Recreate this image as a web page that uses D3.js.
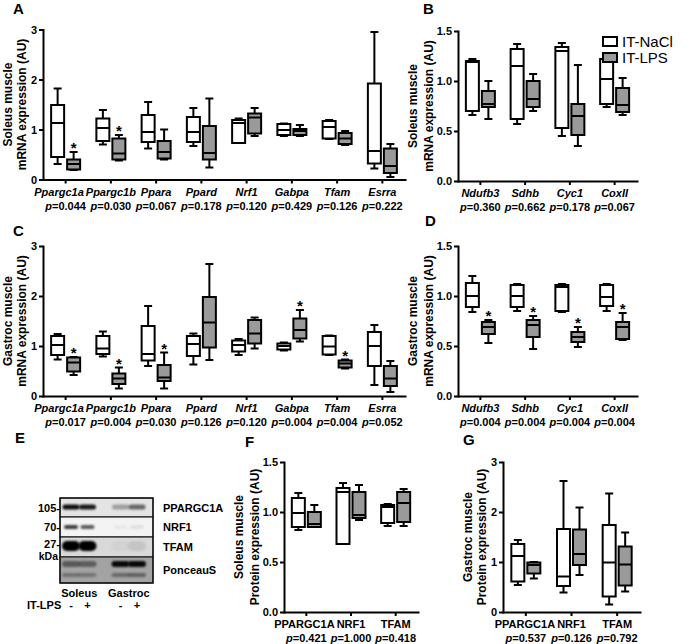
<!DOCTYPE html>
<html><head><meta charset="utf-8">
<script src="https://cdn.jsdelivr.net/npm/d3@7"></script>
<style>
body{margin:0;background:#fff}
svg{display:block}
text{font-family:"Liberation Sans",Arial,sans-serif;}
</style>
</head><body>
<svg id="c" width="685" height="644"></svg>
<script>
// ---------- DATA (box stats: [min, q1, median, q3, max]) ----------
const mitoGenes = ["Ppargc1a","Ppargc1b","Ppara","Ppard","Nrf1","Gabpa","Tfam","Esrra"];
const oxGenes = ["Ndufb3","Sdhb","Cyc1","CoxII"];
const proteins = ["PPARGC1A","NRF1","TFAM"];

const aNaCl = [[0.31,0.45,1.13,1.49,1.82],[0.70,0.77,1.03,1.22,1.39],[0.62,0.75,0.95,1.29,1.55],[0.67,0.75,0.95,1.25,1.43],
               [0.73,0.73,1.13,1.19,1.22],[0.87,0.89,0.99,1.11,1.12],[0.81,0.82,1.05,1.17,1.19],[0.22,0.32,0.57,1.92,2.95]];
const aLPS  = [[0.19,0.20,0.31,0.40,0.55],[0.38,0.40,0.52,0.82,0.89],[0.40,0.42,0.55,0.77,1.00],[0.24,0.40,0.53,1.07,1.62],
               [0.87,0.92,1.24,1.32,1.43],[0.87,0.89,0.97,1.01,1.09],[0.69,0.71,0.82,0.93,0.97],[0.05,0.13,0.27,0.62,0.71]];
const aP = ["0.044","0.030","0.067","0.178","0.120","0.429","0.126","0.222"];
const aStar = [1,1,0,0,0,0,0,0];

const bNaCl = [[0.66,0.70,1.19,1.20,1.22],[0.57,0.62,1.15,1.32,1.37],[0.45,0.53,1.30,1.34,1.38],[0.74,0.77,1.02,1.22,1.23]];
const bLPS  = [[0.62,0.74,0.77,0.90,1.00],[0.70,0.74,0.82,1.00,1.07],[0.35,0.46,0.65,0.77,1.16],[0.66,0.69,0.76,0.93,1.03]];
const bP = ["0.360","0.662","0.178","0.067"];
const bStar = [0,0,0,0];

const cNaCl = [[0.73,0.82,1.02,1.20,1.24],[0.79,0.84,0.95,1.20,1.29],[0.60,0.71,0.84,1.40,1.80],[0.63,0.80,1.04,1.20,1.25],
               [0.82,0.89,1.02,1.11,1.14],[0.91,0.93,1.00,1.05,1.07],[0.82,0.83,0.99,1.20,1.21],[0.22,0.60,1.00,1.28,1.42]];
const cLPS  = [[0.42,0.49,0.67,0.77,0.78],[0.15,0.24,0.35,0.45,0.57],[0.15,0.30,0.37,0.62,0.87],[0.72,0.97,1.47,1.98,2.64],
               [0.95,1.05,1.25,1.52,1.57],[1.09,1.15,1.32,1.55,1.72],[0.55,0.57,0.65,0.71,0.73],[0.08,0.20,0.35,0.60,0.70]];
const cP = ["0.017","0.004","0.030","0.126","0.120","0.004","0.004","0.052"];
const cStar = [1,1,1,0,0,1,1,0];

const dNaCl = [[0.84,0.89,1.00,1.13,1.20],[0.85,0.89,1.00,1.11,1.12],[0.84,0.85,1.09,1.11,1.12],[0.85,0.90,0.99,1.11,1.12]];
const dLPS  = [[0.53,0.62,0.69,0.74,0.76],[0.47,0.59,0.71,0.76,0.80],[0.49,0.54,0.59,0.64,0.69],[0.56,0.57,0.69,0.74,0.83]];
const dP = ["0.004","0.004","0.004","0.004"];
const dStar = [1,1,1,1];

const fNaCl = [[0.82,0.85,0.99,1.14,1.19],[0.68,0.68,1.20,1.24,1.29],[0.86,0.89,1.05,1.07,1.08]];
const fLPS  = [[0.85,0.85,0.88,1.00,1.07],[0.92,0.94,0.97,1.20,1.27],[0.86,0.90,1.09,1.20,1.23]];
const fP = ["0.421","1.000","0.418"];

const gNaCl = [[0.54,0.61,1.12,1.36,1.44],[0.39,0.52,0.71,1.66,2.62],[0.15,0.31,0.99,1.74,2.37]];
const gLPS  = [[0.67,0.77,0.94,0.99,1.00],[0.74,0.94,1.16,1.65,2.09],[0.41,0.53,0.95,1.31,1.59]];
const gP = ["0.537","0.126","0.792"];

const ticks3 = [0,1,2,3];
const ticks15 = [0,0.5,1.0,1.5];

const legendLabels = ["IT-NaCl","IT-LPS"];

// Western blot (E)
const blotLanes = ["S-","S+","_","G-","G+"];
const blotRows = ["PPARGC1A","NRF1","TFAM","PonceauS"];
const blotMW = ["105-","70-","27-",""];
const blotRowBg = ["#e4e4e4","#f3f3f3","#d9d9d9","#a3a3a3"];
const blotPpargc1a = [0.95,0.9,0.3,0.55];
const blotNrf1 = [0.75,0.62,0.04,0.07];
const blotTfam = [1,1,0.03,0.09];
const blotPonceauTop = [0.45,0.42,0.95,0.95];
const blotPonceauBottom = [0.3,0.28,0.35,0.4];

// ---------- DRAW ----------
const svg = d3.select("#c");
const GRAY = "#9a9a9a";
const SW = 2;

const defs = svg.append("defs");
defs.append("filter").attr("id","blur").attr("x","-50%").attr("y","-100%").attr("width","200%").attr("height","300%")
  .append("feGaussianBlur").attr("stdDeviation",1.1);

function boxPanel(cfg){
  const x = d3.scaleBand().domain(cfg.cats).range([cfg.x0, cfg.x1]);
  const y = d3.scaleLinear().domain([0, cfg.yMax]).range([cfg.yBot, cfg.yTop]);
  const g = svg.append("g");

  // axes
  const ya = g.append("g").attr("transform",`translate(${cfg.x0},0)`)
    .call(d3.axisLeft(y).tickValues(cfg.ticks).tickFormat(cfg.fmt).tickSize(4).tickSizeOuter(0).tickPadding(2));
  const xa = g.append("g").attr("transform",`translate(0,${cfg.yBot})`)
    .call(d3.axisBottom(x).tickSize(4).tickSizeOuter(0).tickFormat(""));
  [ya, xa].forEach(a=>{
    a.selectAll("path,line").attr("stroke","#000").attr("stroke-width",SW);
    a.select(".domain").attr("stroke-linecap","square");
    a.selectAll("text").attr("font-size",11).attr("font-weight","bold").attr("fill","#000");
  });

  // boxes
  const groups = [{data: cfg.nacl, off: -8, fill: "#fff"}, {data: cfg.lps, off: 8, fill: GRAY}];
  const bw = 13, cw = 8;
  groups.forEach((grp, gi) => {
    cfg.cats.forEach((c, i) => {
      const s = grp.data[i];
      const cx = x(c) + x.bandwidth()/2 + grp.off;
      const bg = g.append("g");
      bg.append("line").attr("x1",cx).attr("x2",cx).attr("y1",y(s[0])).attr("y2",y(s[4]));
      bg.append("line").attr("x1",cx-cw/2).attr("x2",cx+cw/2).attr("y1",y(s[0])).attr("y2",y(s[0]));
      bg.append("line").attr("x1",cx-cw/2).attr("x2",cx+cw/2).attr("y1",y(s[4])).attr("y2",y(s[4]));
      bg.append("rect").attr("x",cx-bw/2).attr("width",bw).attr("y",y(s[3])).attr("height",Math.max(0.5,y(s[1])-y(s[3])))
        .attr("fill",grp.fill);
      bg.append("line").attr("x1",cx-bw/2).attr("x2",cx+bw/2).attr("y1",y(s[2])).attr("y2",y(s[2]));
      bg.selectAll("line,rect").attr("stroke","#000").attr("stroke-width",SW);
      if (gi===1 && cfg.stars && cfg.stars[i]) {
        g.append("text").attr("x",cx).attr("y",y(s[4])+1).attr("text-anchor","middle")
          .attr("font-size",15).attr("font-weight","bold").text("*");
      }
    });
  });

  // category labels & p-values
  const labels = [];
  cfg.cats.forEach((c,i)=>{
    const cx = x(c) + x.bandwidth()/2;
    labels.push(g.append("text").attr("x",cx).attr("y",cfg.yBot+16).attr("text-anchor","middle")
      .attr("font-size",11).attr("font-weight","bold").attr("font-style",cfg.italic?"italic":"normal").text(c));
    const t = g.append("text").attr("x",cx).attr("y",cfg.yBot+30).attr("text-anchor","middle")
      .attr("font-size",11).attr("font-weight","bold");
    t.append("tspan").attr("font-style","italic").text("p");
    t.append("tspan").text("=" + cfg.p[i]);
  });
  // shift labels leftwards to avoid overlap (like the source software)
  for (let i = labels.length-2; i >= 0; i--) {
    const a = labels[i].node().getBBox(), b = labels[i+1].node().getBBox();
    const over = a.x + a.width + 2 - b.x;
    if (over > 0) labels[i].attr("x", +labels[i].attr("x") - over);
  }

  // y titles
  const yc = (cfg.yTop + cfg.yBot)/2;
  [cfg.title1, cfg.title2].forEach((tt, k)=>{
    const bx = cfg.x0 + cfg.tOff[k];
    g.append("text").attr("transform",`translate(${bx},${yc}) rotate(-90)`).attr("text-anchor","middle")
      .attr("font-size",12).attr("font-weight","bold").text(tt);
  });
}

const f1 = d3.format("d"), f15 = d3.format(".1f");
const offInt = [-31.5,-17.5], offDec = [-41.5,-25.5];

boxPanel({cats: mitoGenes, nacl: aNaCl, lps: aLPS, p: aP, stars: aStar, yMax: 3, ticks: ticks3, fmt: f1,
  x0: 43, x1: 405, yTop: 29.5, yBot: 179.5, italic: true, title1: "Soleus muscle", title2: "mRNA expression (AU)", tOff: offInt});
boxPanel({cats: oxGenes, nacl: bNaCl, lps: bLPS, p: bP, stars: bStar, yMax: 1.5, ticks: ticks15, fmt: f15,
  x0: 458, x1: 637, yTop: 31, yBot: 181, italic: true, title1: "Soleus muscle", title2: "mRNA expression (AU)", tOff: offDec});
boxPanel({cats: mitoGenes, nacl: cNaCl, lps: cLPS, p: cP, stars: cStar, yMax: 3, ticks: ticks3, fmt: f1,
  x0: 43, x1: 405, yTop: 246, yBot: 396, italic: true, title1: "Gastroc muscle", title2: "mRNA expression (AU)", tOff: offInt});
boxPanel({cats: oxGenes, nacl: dNaCl, lps: dLPS, p: dP, stars: dStar, yMax: 1.5, ticks: ticks15, fmt: f15,
  x0: 458, x1: 637, yTop: 246, yBot: 396, italic: true, title1: "Gastroc muscle", title2: "mRNA expression (AU)", tOff: offDec});
boxPanel({cats: proteins, nacl: fNaCl, lps: fLPS, p: fP, stars: null, yMax: 1.5, ticks: ticks15, fmt: f15,
  x0: 284, x1: 418, yTop: 462, yBot: 612, italic: false, title1: "Soleus muscle", title2: "Protein expression (AU)", tOff: offDec});
boxPanel({cats: proteins, nacl: gNaCl, lps: gLPS, p: gP, stars: null, yMax: 3, ticks: ticks3, fmt: f1,
  x0: 503, x1: 640, yTop: 462, yBot: 612, italic: false, title1: "Gastroc muscle", title2: "Protein expression (AU)", tOff: offInt});

// legend
const leg = svg.append("g");
legendLabels.forEach((l,i)=>{
  leg.append("rect").attr("x",603).attr("y",37+i*16).attr("width",14).attr("height",9)
    .attr("fill", i? GRAY : "#fff").attr("stroke","#000").attr("stroke-width",SW);
  leg.append("text").attr("x",622).attr("y",46.5+i*16).attr("font-size",15).text(l);
});

// panel letters
[["A",13,14],["B",423,14],["C",13,236],["D",425,226],["E",15,443],["F",245,447],["G",463,445]].forEach(([t,x,y])=>{
  svg.append("text").attr("x",x).attr("y",y).attr("font-size",15).attr("font-weight","bold").text(t);
});

// ---------- Western blot ----------
const blot = svg.append("g");
const lx = d3.scalePoint().domain(blotLanes).range([71,137]);
const rowH = [19,20,20,26];
let yy = 498;
const rowTop = {};
blotRows.forEach((r,i)=>{ rowTop[r] = yy; yy += rowH[i]; });
blotRows.forEach((r,i)=>{
  blot.append("rect").attr("x",60).attr("y",rowTop[r]).attr("width",93).attr("height",rowH[i])
    .attr("fill",blotRowBg[i]).attr("stroke","#222").attr("stroke-width",1.2);
});
const lanes = ["S-","S+","G-","G+"];
function bands(row, vals, dy, h, w){
  const clip = "clip-"+row.replace(/\W/g,"")+dy;
  const ri = blotRows.indexOf(row);
  defs.append("clipPath").attr("id",clip).append("rect").attr("x",60.6).attr("y",rowTop[row]+0.6).attr("width",91.8).attr("height",rowH[ri]-1.2);
  const gg = blot.append("g").attr("clip-path",`url(#${clip})`);
  lanes.forEach((l,i)=>{
    gg.append("rect").attr("x",lx(l)-w/2).attr("y",rowTop[row]+dy-h/2).attr("width",w).attr("height",h)
      .attr("rx",h/2).attr("fill","#000").attr("opacity",vals[i]).attr("filter","url(#blur)");
  });
}
bands("PPARGC1A", blotPpargc1a, 9, 5, 17);
bands("NRF1", blotNrf1, 10, 4, 14);
bands("TFAM", blotTfam, 9, 10, 18);
bands("PonceauS", blotPonceauTop, 7, 6, 18);
bands("PonceauS", blotPonceauBottom, 18, 4, 18);
blot.append("rect").attr("x",60).attr("y",498).attr("width",93).attr("height",85).attr("fill","none").attr("stroke","#111").attr("stroke-width",1.3);

blotRows.forEach((r,i)=>{
  const cy = rowTop[r] + rowH[i]/2;
  blot.append("text").attr("x",163).attr("y",cy+4).attr("font-size",11).attr("font-weight","bold").text(r);
  if (blotMW[i]) blot.append("text").attr("x",60).attr("y",cy+4-(i===2?3:0)).attr("text-anchor","end")
    .attr("font-size",11).attr("font-weight","bold").text(blotMW[i]);
});
blot.append("text").attr("x",58).attr("y",560).attr("text-anchor","end").attr("font-size",10.5).attr("font-weight","bold").text("kDa");
blot.append("text").attr("x",(lx("S-")+lx("S+"))/2).attr("y",597).attr("text-anchor","middle").attr("font-size",11).attr("font-weight","bold").text("Soleus");
blot.append("text").attr("x",(lx("G-")+lx("G+"))/2).attr("y",597).attr("text-anchor","middle").attr("font-size",11).attr("font-weight","bold").text("Gastroc");
blot.append("text").attr("x",27).attr("y",609).attr("font-size",11).attr("font-weight","bold").text("IT-LPS");
lanes.forEach((l,i)=>{
  blot.append("text").attr("x",lx(l)).attr("y",609).attr("text-anchor","middle").attr("font-size",11).attr("font-weight","bold").text(i%2?"+":"-");
});
</script>
</body></html>
